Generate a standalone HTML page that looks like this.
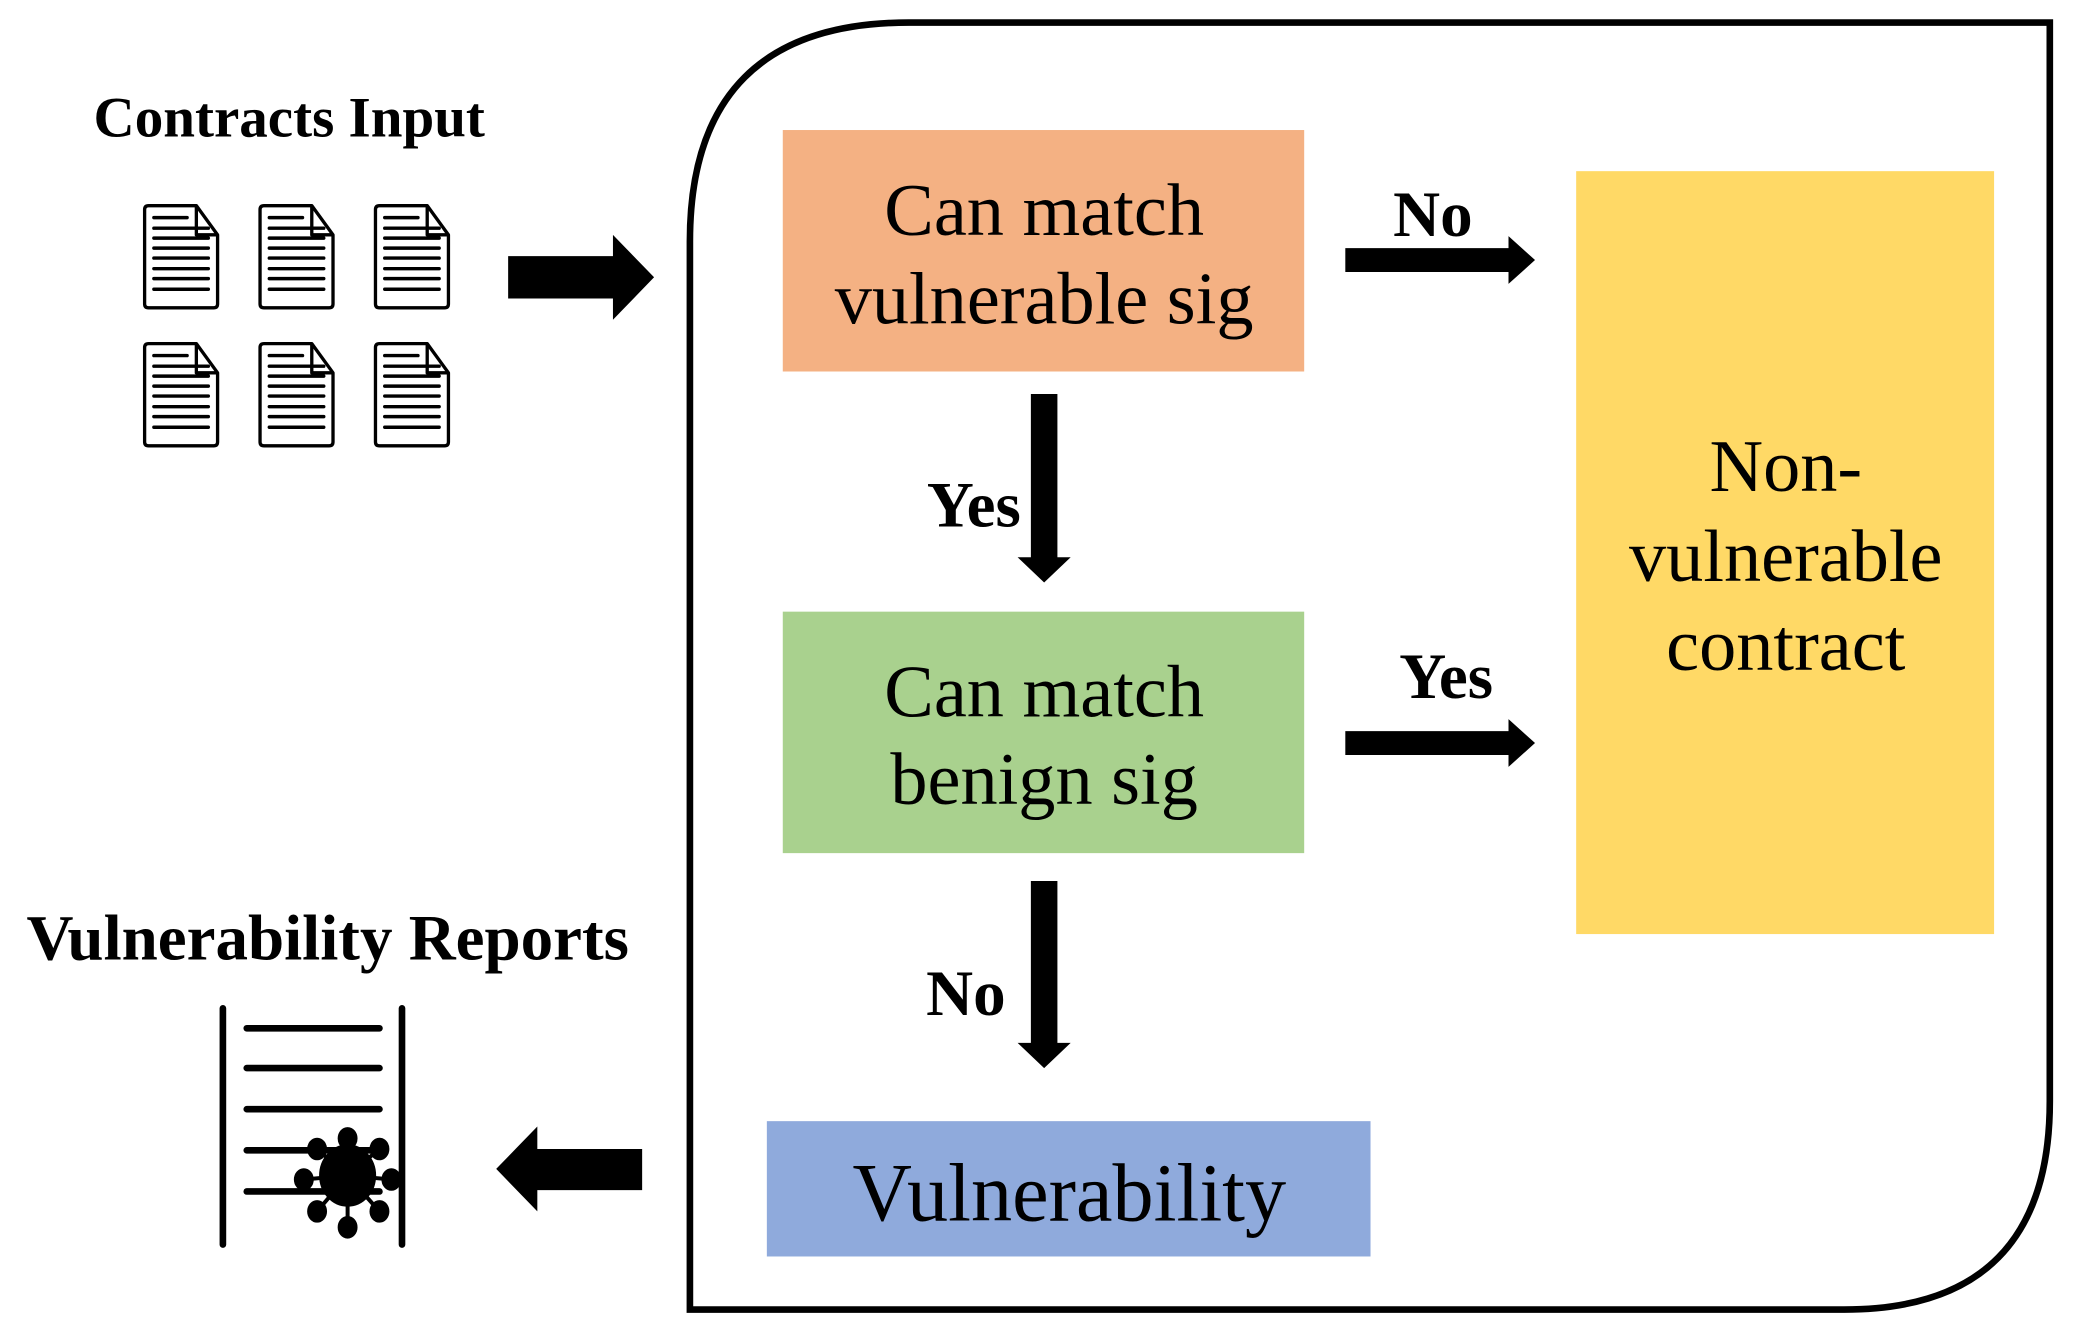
<!DOCTYPE html>
<html><head><meta charset="utf-8"><style>
html,body{margin:0;padding:0;background:#fff;}
svg{display:block;}
text{font-family:"Liberation Serif",serif;}
</style></head><body>
<svg width="2079" height="1341" viewBox="0 0 1567 1010.7" preserveAspectRatio="none" xmlns="http://www.w3.org/2000/svg">
<defs>
<g id="doc">
<path d="M3,0 H39 L55,22 V74 Q55,77 52,77 H3 Q0,77 0,74 V3 Q0,0 3,0 Z" fill="#fff" stroke="#000" stroke-width="2.5" stroke-linejoin="round"/>
<path d="M39,0 V22 H55" fill="none" stroke="#000" stroke-width="2.5" stroke-linejoin="round"/>
<g stroke="#000" stroke-width="2.6" stroke-linecap="round">
<line x1="7" y1="9" x2="32" y2="9"/>
<line x1="7" y1="17" x2="48" y2="17"/>
<line x1="7" y1="24.5" x2="48" y2="24.5"/>
<line x1="7" y1="32" x2="48" y2="32"/>
<line x1="7" y1="39.5" x2="48" y2="39.5"/>
<line x1="7" y1="47.5" x2="48" y2="47.5"/>
<line x1="7" y1="55" x2="48" y2="55"/>
<line x1="7" y1="63" x2="48" y2="63"/>
</g>
</g>
</defs>

<path d="M520,987 V182 Q520,17 685,17 H1545 V830 Q1545,987 1390,987 Z" fill="none" stroke="#000" stroke-width="5"/>

<text x="218" y="103" font-size="43" font-weight="bold" text-anchor="middle">Contracts Input</text>
<text x="247" y="723" font-size="49" font-weight="bold" text-anchor="middle">Vulnerability Reports</text>

<use href="#doc" x="109" y="155"/>
<use href="#doc" x="196" y="155"/>
<use href="#doc" x="283" y="155"/>
<use href="#doc" x="109" y="259"/>
<use href="#doc" x="196" y="259"/>
<use href="#doc" x="283" y="259"/>

<polygon points="383,193 462,193 462,177 493,209 462,241 462,225 383,225" fill="#000"/>
<polygon points="484,866 405,866 405,849 374,881 405,913 405,897 484,897" fill="#000"/>

<g stroke="#000" stroke-width="5" stroke-linecap="round">
<line x1="168" y1="760" x2="168" y2="938"/>
<line x1="303" y1="760" x2="303" y2="938"/>
<line x1="186" y1="775" x2="286" y2="775"/>
<line x1="186" y1="805" x2="286" y2="805"/>
<line x1="186" y1="836" x2="286" y2="836"/>
<line x1="186" y1="867" x2="286" y2="867"/>
<line x1="186" y1="898" x2="286" y2="898"/>
</g>
<g fill="#000" stroke="#000" stroke-width="3">
<ellipse cx="262" cy="886" rx="20" ry="22"/>
<line x1="262" y1="886" x2="262" y2="858"/>
<line x1="262" y1="886" x2="262" y2="925"/>
<line x1="262" y1="886" x2="239" y2="866"/>
<line x1="262" y1="886" x2="286" y2="866"/>
<line x1="262" y1="886" x2="229" y2="889"/>
<line x1="262" y1="886" x2="295" y2="889"/>
<line x1="262" y1="886" x2="239" y2="913"/>
<line x1="262" y1="886" x2="286" y2="913"/>
<ellipse cx="262" cy="858" rx="6" ry="7"/>
<ellipse cx="262" cy="925" rx="6" ry="7"/>
<ellipse cx="239" cy="866" rx="6" ry="7"/>
<ellipse cx="286" cy="866" rx="6" ry="7"/>
<ellipse cx="229" cy="889" rx="6" ry="7"/>
<ellipse cx="295" cy="889" rx="6" ry="7"/>
<ellipse cx="239" cy="913" rx="6" ry="7"/>
<ellipse cx="286" cy="913" rx="6" ry="7"/>
</g>

<rect x="590" y="98" width="393" height="182" fill="#f4b183"/>
<rect x="590" y="461" width="393" height="182" fill="#a9d18e"/>
<rect x="578" y="845" width="455" height="102" fill="#8faadc"/>
<rect x="1188" y="129" width="315" height="575" fill="#ffd966"/>

<text x="787" y="177" font-size="56" text-anchor="middle">Can match</text>
<text x="787" y="244" font-size="56" text-anchor="middle">vulnerable sig</text>
<text x="787" y="540" font-size="56" text-anchor="middle">Can match</text>
<text x="787" y="606" font-size="56" text-anchor="middle">benign sig</text>
<text x="806" y="920" font-size="62" text-anchor="middle">Vulnerability</text>
<text x="1346" y="370" font-size="56" text-anchor="middle">Non-</text>
<text x="1346" y="438" font-size="56" text-anchor="middle">vulnerable</text>
<text x="1346" y="505" font-size="56" text-anchor="middle">contract</text>

<polygon points="777,297 797,297 797,420 807,420 787,439 767,420 777,420" fill="#000"/>
<polygon points="777,664 797,664 797,786 807,786 787,805 767,786 777,786" fill="#000"/>
<polygon points="1014,187 1137,187 1137,178 1157,196 1137,214 1137,205 1014,205" fill="#000"/>
<polygon points="1014,551 1137,551 1137,542 1157,560 1137,578 1137,569 1014,569" fill="#000"/>

<text x="1080" y="178" font-size="49" font-weight="bold" text-anchor="middle">No</text>
<text x="1090" y="526" font-size="49" font-weight="bold" text-anchor="middle">Yes</text>
<text x="734" y="397" font-size="49" font-weight="bold" text-anchor="middle">Yes</text>
<text x="728" y="765" font-size="49" font-weight="bold" text-anchor="middle">No</text>
</svg>
</body></html>
